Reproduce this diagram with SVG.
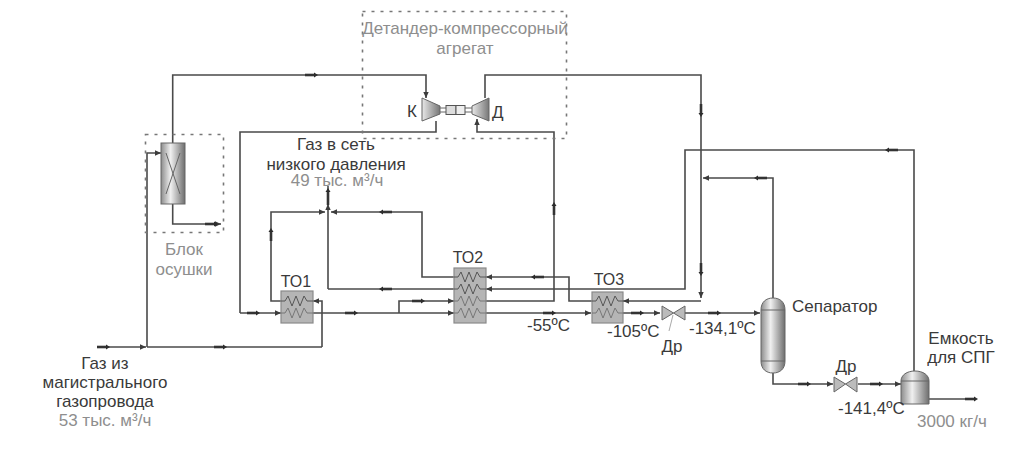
<svg xmlns="http://www.w3.org/2000/svg" width="1024" height="456" viewBox="0 0 1024 456">
<defs>
<linearGradient id="vessel" x1="0" y1="0" x2="1" y2="0"><stop offset="0" stop-color="#8c8c8c"/><stop offset="0.4" stop-color="#f0f0f0"/><stop offset="1" stop-color="#6e6e6e"/></linearGradient>
<linearGradient id="cone" x1="0" y1="0" x2="1" y2="0"><stop offset="0" stop-color="#e8e8e8"/><stop offset="1" stop-color="#777"/></linearGradient>
<marker id="head" markerUnits="userSpaceOnUse" markerWidth="7" markerHeight="6" refX="6" refY="3" orient="auto"><path d="M0 0.300L6 3L0 5.700Z" fill="#3c3c3c"/></marker>
<marker id="headS" markerUnits="userSpaceOnUse" markerWidth="5" markerHeight="6" refX="1" refY="3" orient="auto"><path d="M0 0.500L4 3L0 5.500Z" fill="#2c2c2c"/></marker>
<polyline id="coil" points="0,0 4,0 7,-5 11,5 15,-5 19,5 23,-5 26,0 32,0" fill="none"/>
</defs>
<style>
text{font-family:"Liberation Sans",Arial,sans-serif;font-size:17px;fill:#3a3a3a}
.g{fill:#8e8e8e}
.m{text-anchor:middle}
.c{fill:none;stroke:#4a4a4a;stroke-width:1.6}
.a{marker-end:url(#head)}
.f{fill:none;stroke:#333;stroke-width:2.6;marker-end:url(#headS)}
.d{fill:none;stroke:#777;stroke-width:1.6;stroke-dasharray:3 6}
.hx{fill:#b5b5b5;stroke:#8a8a8a;stroke-width:1.2}
.coil{fill:none;stroke:#555;stroke-width:1}
.coil2{fill:none;stroke:#777;stroke-width:1}
.v{stroke:#666;stroke-width:1}
</style>
<rect width="1024" height="456" fill="#fff"/>

<g id="connectors">
<path class="c a" d="M172.700 143V75H426V98"/>
<path class="c" d="M436 121V132H240V313"/>
<path class="c a" d="M240 313H281"/>
<path class="c" d="M485 98V75H701V178"/>
<path class="c a" d="M701 178V298"/>
<path class="c a" d="M701 301H623"/>
<path class="c a" d="M486 301H554V132H477V119"/>
<path class="c a" d="M172.700 204V224H221"/>
<path class="c a" d="M97 347H146"/>
<path class="c a" d="M147 347V153H161"/>
<path class="c" d="M147 347H322"/>
<path class="c a" d="M322 347V301H313"/>
<path class="c a" d="M281 301H271V212H325"/>
<path class="c a" d="M328 289V204"/>
<path class="c" d="M328 204V186"/>
<path class="c" d="M454 289H328"/>
<path class="c a" d="M454 277H422V212H331"/>
<path class="c a" d="M313 313H454"/>
<path class="c a" d="M399 313V301H454"/>
<path class="c a" d="M592 301H569V277H486"/>
<path class="c a" d="M914 371V150H685V289H486"/>
<path class="c a" d="M486 313H591"/>
<path class="c a" d="M623 313H660"/>
<path class="c a" d="M685 313H760"/>
<path class="c a" d="M773 298V178H703"/>
<path class="c a" d="M773 373V384H833"/>
<path class="c a" d="M858 384H901"/>
<path class="c" d="M929 399H972"/>
<path class="f" d="M305 75H315"/>
<path class="f" d="M205 224H215"/>
<path class="f" d="M97 347H107"/>
<path class="f" d="M214 347H224"/>
<path class="f" d="M247 313H257"/>
<path class="f" d="M345 313H355"/>
<path class="f" d="M412 301H422"/>
<path class="f" d="M392 212H382"/>
<path class="f" d="M392 289H382"/>
<path class="f" d="M271 241V231"/>
<path class="f" d="M328 205V191"/>
<path class="f" d="M544 277H534"/>
<path class="f" d="M554 215V205"/>
<path class="f" d="M543 313H553"/>
<path class="f" d="M631 313H641"/>
<path class="f" d="M708 313H718"/>
<path class="f" d="M701 263V273"/>
<path class="f" d="M701 104V114"/>
<path class="f" d="M767 178H757"/>
<path class="f" d="M898 150H888"/>
<path class="f" d="M798 384H808"/>
<path class="f" d="M870 384H880"/>
<path class="f" d="M965 399H975"/>
</g>

<g id="detander-box"><rect class="d" x="362.500" y="11.500" width="204" height="127"/>
<text class="g m" x="465" y="34">Детандер-компрессорный</text><text class="g m" x="465" y="54">агрегат</text></g>
<g id="compressor"><path d="M422 98L440 106V114L422 121Z" fill="url(#cone)" stroke="#666"/><text x="407" y="117">К</text></g>
<g id="shaft"><path d="M440 108H446M465 108H472M440 112H446M465 112H472" stroke="#666" fill="none"/><rect x="446" y="105.500" width="10" height="9" fill="#ddd" stroke="#555"/><rect x="456" y="105.500" width="9" height="9" fill="#eee" stroke="#555"/></g>
<g id="expander"><path d="M489 98L472 106V114L489 121Z" fill="url(#cone)" stroke="#666"/><text x="492" y="118">Д</text></g>

<g id="dryer-box"><rect class="d" x="145.500" y="134.500" width="78" height="98"/>
<text class="g m" x="184" y="255">Блок</text><text class="g m" x="184" y="275">осушки</text></g>
<g id="dryer"><rect x="161" y="143" width="24" height="61" fill="url(#vessel)" stroke="#666"/><path class="v" d="M166 153L180 194M180 153L166 194"/></g>

<g id="to1"><rect class="hx" x="281" y="291" width="32" height="32"/><use href="#coil" x="281" y="301" class="coil"/><use href="#coil" x="281" y="313" class="coil2"/><text class="m" x="296" y="287" style="font-size:16px">ТО1</text></g>
<g id="to2"><rect class="hx" x="454" y="268" width="32" height="55"/><use href="#coil" x="454" y="277" class="coil"/><use href="#coil" x="454" y="289" class="coil"/><use href="#coil" x="454" y="301" class="coil2"/><use href="#coil" x="454" y="313" class="coil2"/><text class="m" x="468" y="263" style="font-size:16px">ТО2</text></g>
<g id="to3"><rect class="hx" x="592" y="292" width="31" height="31"/><use href="#coil" x="592" y="301" class="coil"/><use href="#coil" x="592" y="313" class="coil2"/><text class="m" x="609" y="285" style="font-size:16px">ТО3</text></g>

<g id="valve1"><path d="M662 306L673.500 313L662 320ZM685 306L673.500 313L685 320Z" fill="#bbb" stroke="#666"/><path d="M673 315L669 331" stroke="#aaa" fill="none"/><text class="m" x="672" y="352">Др</text></g>
<g id="valve2"><path d="M834 377L845.500 384L834 392ZM857 377L845.500 384L857 392Z" fill="#bbb" stroke="#666"/><text class="m" x="846" y="372">Др</text></g>

<g id="separator"><path d="M761 310C761 302 766 298 773 298C780 298 785 302 785 310V361C785 369 780 373 773 373C766 373 761 369 761 361Z" fill="url(#vessel)" stroke="#666"/><path d="M761 310H785M761 361H785" stroke="#666" fill="none"/><text x="792" y="312">Сепаратор</text></g>
<g id="tank"><path d="M901 381C901 375 907 371 915 371C923 371 929 375 929 381V404H901Z" fill="url(#vessel)" stroke="#666"/><path d="M901 381H929" stroke="#666" fill="none"/><text class="m" x="961" y="344">Емкость</text><text class="m" x="961" y="363">для СПГ</text><text class="g" x="917" y="427">3000 кг/ч</text></g>

<g id="labels">
<text class="m" x="336" y="150">Газ в сеть</text>
<text class="m" x="336" y="170">низкого давления</text>
<text class="g m" x="337" y="186">49 тыс. м³/ч</text>
<text class="m" x="105" y="369">Газ из</text>
<text class="m" x="105" y="388">магистрального</text>
<text class="m" x="105" y="407">газопровода</text>
<text class="g m" x="105" y="426">53 тыс. м³/ч</text>
<text x="527" y="331">-55ºC</text>
<text x="607" y="337">-105ºC</text>
<text x="689" y="334">-134,1ºC</text>
<text x="838" y="414">-141,4ºC</text>
</g>
</svg>
